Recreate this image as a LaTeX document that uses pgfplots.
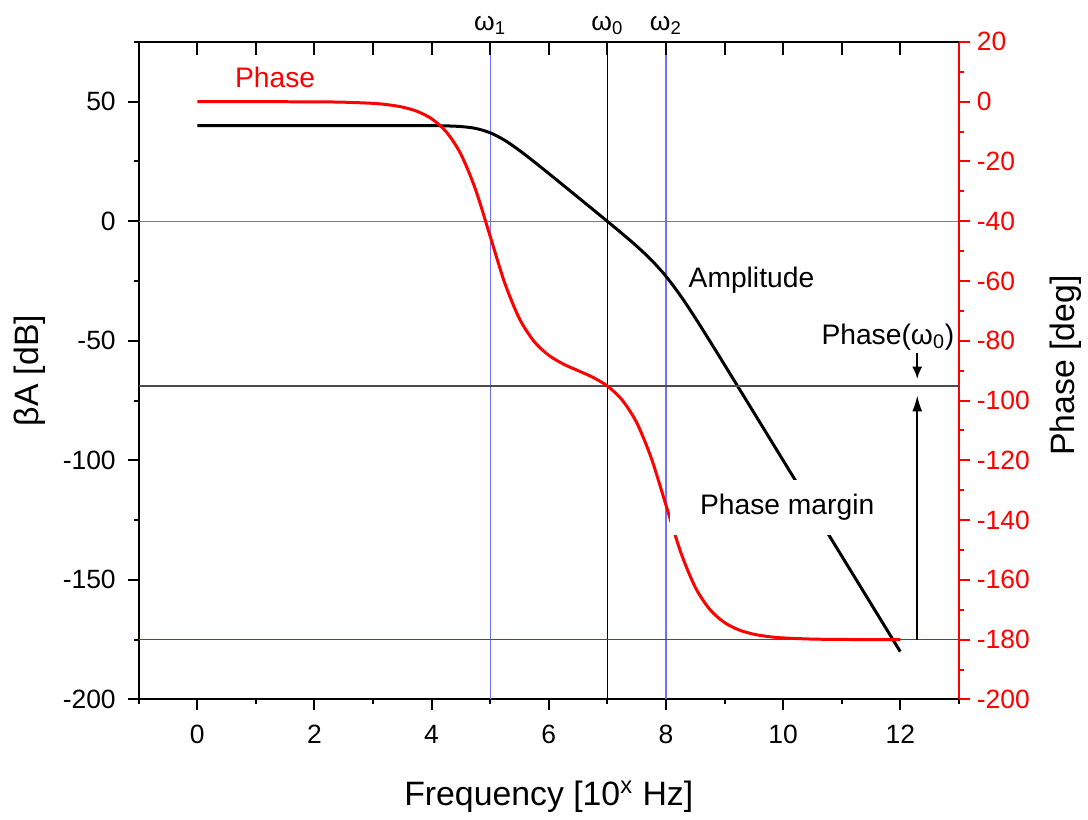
\documentclass[border=0pt]{standalone}
\usepackage{pgfplots}
\pgfplotsset{compat=1.18}
\usepackage{fontspec}
\setmainfont{Liberation Sans}
\usetikzlibrary{arrows.meta}
\definecolor{vline}{RGB}{110,110,255}

\pgfplotsset{
  base/.style={
    width=411bp, height=329.5bp, scale only axis,
    xmin=-1, xmax=13, clip=false,
    /pgf/number format/assume math mode=true,
    tick label style={font=\fontsize{13.3}{15}\selectfont},
    label style={font=\fontsize{17}{20}\selectfont},
    axis line style={line width=1bp},
    tick style={line width=1bp, black},
    major tick length=5.5bp, minor tick length=2.5bp,
  }
}

\begin{document}
\begin{tikzpicture}
% amplitude, left axis
\begin{axis}[base,
  ymin=-200, ymax=75,
  axis y line*=left, axis x line*=bottom,
  tick align=outside,
  xtick={0,2,...,12}, minor xtick={-1,1,...,13},
  ytick={-200,-150,...,50}, minor ytick={-175,-125,...,75},
  xticklabel style={yshift=-4bp},
  yticklabel style={xshift=-2.5bp},
  xlabel={Frequency [10\textsuperscript{x} Hz]},
  ylabel={βA [dB]},
  xlabel style={at={(axis description cs:0.5,-0.1480)}, anchor=center},
  ylabel style={at={(axis description cs:-0.1326,0.5)}, anchor=center},
]
\path (rel axis cs:-0.1691,-0.1684) rectangle (rel axis cs:1.1545,1.0637);
\addplot[vline, line width=0.6bp] coordinates {(5,-200) (5,75)};
\addplot[vline, line width=0.6bp] coordinates {(8,-200) (8,75)};
\addplot[black, line width=0.6bp] coordinates {(7,-200) (7,75)};
\addplot[gray, line width=0.6bp] coordinates {(-1,0) (13,0)};
\addplot[black, line width=1.5bp, smooth] coordinates {
  (0,40) (1,40) (2,40) (3,40) (3.5,40) (4,39.96) (4.25,39.86) (4.5,39.59)
  (4.75,38.81) (5,36.99) (5.25,33.81) (5.5,29.59) (5.75,24.87) (6,19.96)
  (6.25,14.98) (6.5,9.99) (6.75,4.99) (7,-0.04) (7.25,-5.14) (7.5,-10.41)
  (7.75,-16.19) (8,-23.01) (8.25,-31.19) (8.5,-40.41) (8.75,-50.14)
  (9,-60.04) (9.25,-70.01) (9.5,-80.00) (10,-100) (11,-140) (12,-180)
};
\node[red, font=\fontsize{14.2}{16}\selectfont] at (axis cs:1.33,60) {Phase};
\end{axis}

% phase, right axis
\begin{axis}[base,
  ymin=-200, ymax=20,
  axis y line*=right, axis x line=none,
  tick align=outside,
  ytick={-200,-180,...,20}, minor ytick={-190,-170,...,10},
  y axis line style={red, line width=1bp},
  ytick style={red, line width=1bp},
  yticklabel style={red},
  ylabel={Phase [deg]},
  ylabel style={at={(axis description cs:1.1302,0.508)}, anchor=center},
]
\addplot[color=gray!60!black, line width=0.6bp] coordinates {(-1,-95.14) (13,-95.14)};
\addplot[color=red, line width=0.7bp] coordinates {(-1,-180) (13,-180)};
\addplot[color=red, line width=1.5bp, smooth] coordinates {
  (0,0) (1,-0.01) (2,-0.06) (2.5,-0.18) (3,-0.57) (3.25,-1.02) (3.5,-1.81)
  (3.75,-3.22) (4,-5.72) (4.25,-10.09) (4.5,-17.57) (4.75,-29.39) (5,-45.06)
  (5.25,-60.74) (5.5,-72.63) (5.75,-80.24) (6,-84.86) (6.25,-87.80)
  (6.5,-90.00) (6.75,-92.20) (7,-95.14) (7.25,-99.76) (7.5,-107.37)
  (7.75,-119.26) (8,-134.94) (8.25,-150.61) (8.5,-162.43) (8.75,-169.91)
  (9,-174.28) (9.25,-176.78) (9.5,-178.19) (9.75,-178.98) (10,-179.43)
  (10.5,-179.82) (11,-179.94) (11.5,-179.98) (12,-179.99)
};
\draw[-{Latex[length=8bp,width=5bp]}, line width=0.8bp] (axis cs:12.29,-180) -- (axis cs:12.29,-98.3);
\draw[-{Latex[length=6bp,width=5bp]}, line width=0.8bp] (axis cs:12.29,-84) -- (axis cs:12.29,-92.7);
\node[font=\fontsize{14.2}{16}\selectfont] at (axis cs:11.79,-78.7) {Phase(ω\textsubscript{0})};
\node[font=\fontsize{14.2}{16}\selectfont] at (axis cs:9.46,-59.7) {Amplitude};
\node[fill=white, inner sep=0, minimum width=117bp, minimum height=27.5bp,
  font=\fontsize{14.2}{16}\selectfont] at (axis cs:10.07,-135.7) {Phase margin};
\end{axis}

% top axis with omega marks
\begin{axis}[base,
  ymin=0, ymax=1,
  axis y line=none, axis x line*=top,
  tick align=inside, major tick length=6.5bp,
  xtick={0,1,...,12},
  xticklabels={,,,,,ω\textsubscript{1},,ω\textsubscript{0},ω\textsubscript{2},,,,},
]
\end{axis}
\end{tikzpicture}
\end{document}
